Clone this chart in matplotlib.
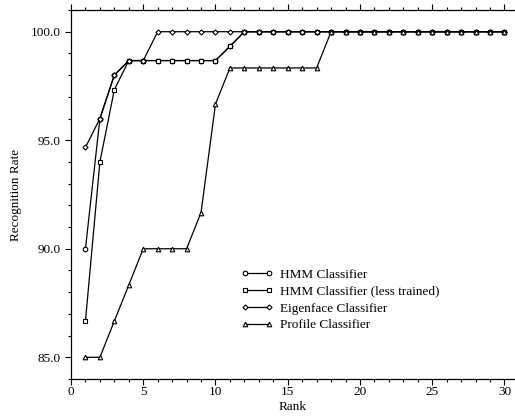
import matplotlib
matplotlib.use('Agg')
import matplotlib.pyplot as plt
from matplotlib.ticker import MultipleLocator, FormatStrFormatter

plt.rcParams['font.family'] = ['Liberation Serif', 'DejaVu Serif']

rank = list(range(1, 31))

# recognition rate (%) per rank
hmm = [90.0, 96.0, 98.0, 98.67, 98.67, 98.67, 98.67, 98.67, 98.67, 98.67,
       99.33] + [100.0] * 19
hmm_less = [86.67, 94.0, 97.33, 98.67, 98.67, 98.67, 98.67, 98.67, 98.67, 98.67,
            99.33] + [100.0] * 19
eigen = [94.67, 96.0, 98.0, 98.67, 98.67] + [100.0] * 25
profile = [85.0, 85.0, 86.67, 88.33, 90.0, 90.0, 90.0, 90.0, 91.67, 96.67,
           98.33, 98.33, 98.33, 98.33, 98.33, 98.33, 98.33] + [100.0] * 13

series = [
    ('HMM Classifier', hmm, 'o'),
    ('HMM Classifier (less trained)', hmm_less, 's'),
    ('Eigenface Classifier', eigen, 'D'),
    ('Profile Classifier', profile, '^'),
]

fig = plt.figure(figsize=(5.15, 4.18), dpi=100)
ax = fig.add_axes([71 / 515, 1 - 379 / 418, 1 - 71 / 515, (379 - 10) / 418])

for label, vals, mk in series:
    ms = 2.6 if mk == 'D' else 3.3
    ax.plot(rank, vals, color='black', lw=0.9, marker=mk, markersize=ms,
            markerfacecolor='white', markeredgecolor='black', markeredgewidth=0.8,
            label=label)

ax.set_xlim(0, 30.73)
ax.set_ylim(84, 101)
ax.xaxis.set_major_locator(MultipleLocator(5))
ax.xaxis.set_minor_locator(MultipleLocator(1))
ax.yaxis.set_major_locator(MultipleLocator(5))
ax.yaxis.set_minor_locator(MultipleLocator(1))
ax.yaxis.set_major_formatter(FormatStrFormatter('%.1f'))

ax.spines['right'].set_visible(False)
for s in ['left', 'top', 'bottom']:
    ax.spines[s].set_linewidth(0.9)
ax.tick_params(which='both', direction='out', top=True, right=False,
               labelsize=9.5, width=0.8)
ax.tick_params(which='major', length=4)
ax.tick_params(which='minor', length=2)
ax.tick_params(axis='x', pad=1)

ax.set_xlabel('Rank', fontsize=9.5, labelpad=2)
ax.set_ylabel('Recognition Rate', fontsize=9.5, labelpad=6)

ax.legend(loc='upper left', bbox_to_anchor=(0.383, 0.30), frameon=False,
          fontsize=9.5, numpoints=2, handlelength=2.4, handletextpad=0.55,
          labelspacing=0.36, borderaxespad=0, borderpad=0)

fig.savefig('out.png', dpi=100)
